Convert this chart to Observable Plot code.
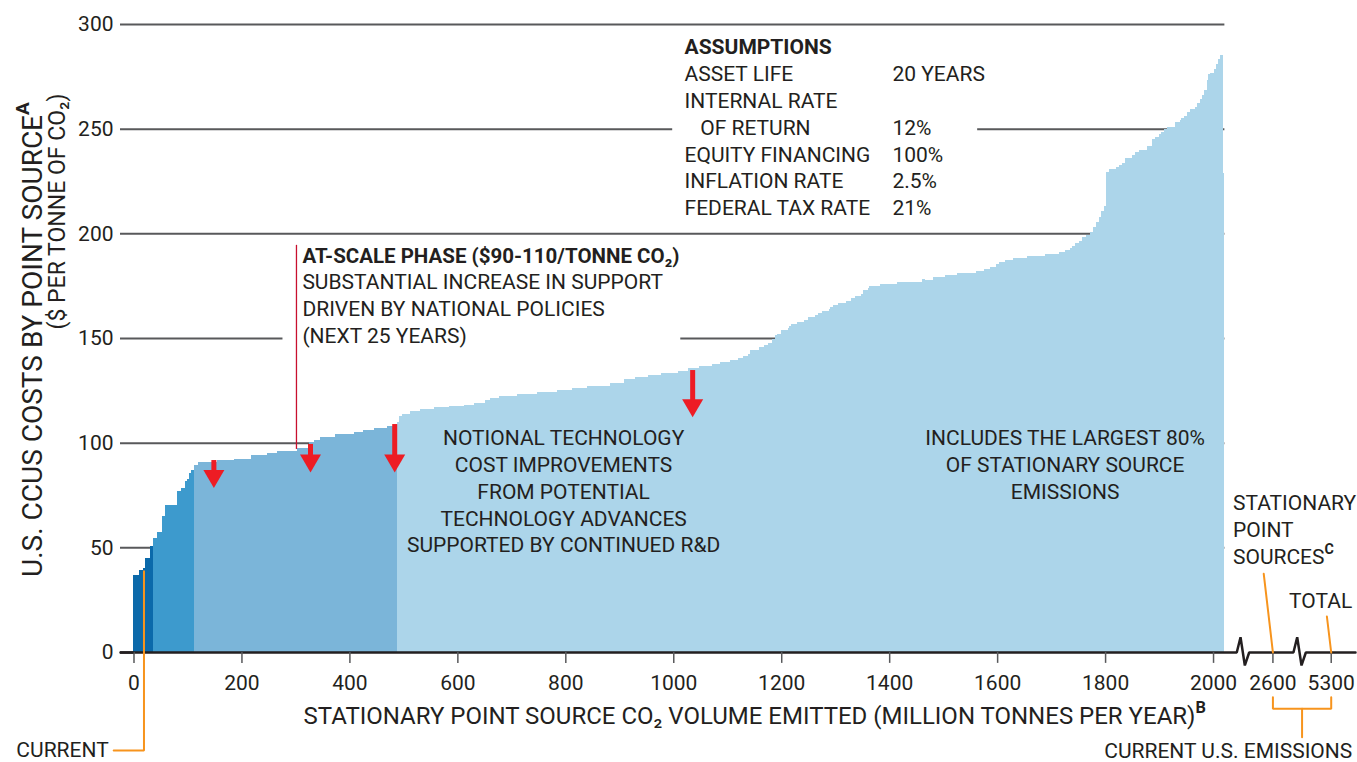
<!DOCTYPE html>
<html><head><meta charset="utf-8">
<script src="https://cdn.jsdelivr.net/npm/d3@7"></script>
<script src="https://cdn.jsdelivr.net/npm/@observablehq/plot@0.6"></script>
<style>
html,body{margin:0;padding:0;background:#fff;}
#chart svg{display:block;}
</style></head><body><div id="chart"></div>
<script>
// ---------- DATA ----------
// left edge of each point-source step (million tonnes per year, cumulative)
const volumeStart = [0,11,17,22,31, 36.5,44,52,59,80,88,95,99,102,107,
 112.4,120,155,186,217,248,266,303,325,334,346,374,408,426,445,470,
 488,491,497.5,513,531,556,584,612,630,652,661,676.5,710.5,747.6,784.6,812,840,883,908,930,
 954,977,1008,1028,1048,1072,1087,1106,1119,1130,1138,1143,1158,1169,1175,1183,1189,1193,1200,1212,
 1215,1219,1230,1243,1250,1263,1269,1275,1288,1291,1295,1306,1320,1330,1337,1347,1352,1361,1363,1383,
 1415,1461,1466,1481,1504,1526,1561,1575,1587,1598,1604,1614,1630,1656,1689,1715,1726,1735,1739,1745,
 1752,1757,1764,1772,1778,1784,1788,1793,1798,1801,1807,1820,1826,1831,1836,1849,1855,1863,1877,1886,
 1893,1899,1903,1909,1915,1930,1938,1941,1946,1951,1957,1967,1971,1975,1979,1983,1988,1991,1995,2001,
 2006,2009,2013,2018];
const volumeEnd = 2021;
// cost of each step ($ per tonne CO2)
const costPerTonne = [37,39,40,45,50.6, 54.6,57.5,65.2,70,77.1,78.4,81.6,82.7,85.5,87.1,
 89.5,90.8,91.6,92.2,94.3,95.1,96.2,97.5,100.1,101.4,102.7,104.1,104.9,106.2,107,108.1,
 110.1,112.9,113.8,115.2,116.2,117,117.3,118.1,119,120.2,121.1,122.4,123.2,124.1,125.1,126,127.1,128.4,130.3,131.3,
 132.2,133.2,134.3,135.6,136.7,137.6,138.6,139.5,140.5,141.4,142.4,144.3,145.6,146.7,147.6,149.5,151.4,152.1,153.8,154.8,
 155.7,156.7,157.6,158.6,160,161,161.9,162.9,163.8,164.8,165.7,166.7,167.6,168.9,170,171,172.9,173.8,174.8,175.7,
 176.7,178,177.6,179,180,181,182,182.9,183.8,185.2,186.2,187.1,188.1,189,190,191,191.9,192.9,193.8,195.2,
 196.2,198.1,199,200.5,203,205.5,207.6,210.8,213.2,229.5,230.6,231.6,232.7,233.8,236,237.3,238.9,239.8,241.8,245,
 246.2,247.5,248.6,249.9,250.7,253.2,254.2,255.1,256.1,258,259.3,260.5,262.5,264.1,266.1,268.5,273.3,276,276.5,278.4,
 280.9,283.3,285.2,228.7];
// phase tiers (start volume) and colours
const tierStart = [0, 36.5, 112.4, 488];
const tierColors = ["#0b69aa", "#3d9acd", "#7bb5d9", "#acd5ea"];

const yTicks = [0, 50, 100, 150, 200, 250, 300];
const xTicks = [0, 200, 400, 600, 800, 1000, 1200, 1400, 1600, 1800, 2000];
const brokenTicks = [2600, 5300];          // ticks after the axis breaks
const axisBreakCenters = [2055, 2160];      // positions of the zig-zag breaks (axis units)
// piecewise mapping of the broken x axis
const brokenAxis = d3.scaleLinear().domain([0, 2040, 2600, 5300, 5600]).range([0, 2040, 2110, 2218, 2240]);

// gridline pieces (interrupted by text blocks)
const gridY  = [300, 250, 250, 200, 150, 150, 100, 50];
const gridX1 = [-25, -25, 1563, -25, -25, 1013, -25, -25];
const gridX2 = [2021, 998, 2021, 2021, 276, 2021, 2021, 2021];

// red arrows: notional cost improvements
const arrowX   = [148, 327, 483, 1035];
const arrowTop = [91.7, 99.4, 108.9, 134.7];
const arrowTip = [78.6, 86, 86, 112.4];

const assumptionLabels = ["ASSET LIFE", "INTERNAL RATE", "   OF RETURN", "EQUITY FINANCING", "INFLATION RATE", "FEDERAL TAX RATE"];
const assumptionValues = ["20 YEARS", "", "12%", "100%", "2.5%", "21%"];
const atScaleLines = ["SUBSTANTIAL INCREASE IN SUPPORT", "DRIVEN BY NATIONAL POLICIES", "(NEXT 25 YEARS)"];
const notionalLines = ["NOTIONAL TECHNOLOGY", "COST IMPROVEMENTS", "FROM POTENTIAL", "TECHNOLOGY ADVANCES", "SUPPORTED BY CONTINUED R&D"];
const includesLines = ["INCLUDES THE LARGEST 80%", "OF STATIONARY SOURCE", "EMISSIONS"];
const stationaryLines = ["STATIONARY", "POINT", "SOURCES{C}"];

// ---------- BUILD ----------
const steps = volumeStart.map((x0, i) => ({
  x1: x0,
  x2: i + 1 < volumeStart.length ? volumeStart[i + 1] : volumeEnd,
  cost: costPerTonne[i],
  color: tierColors[d3.bisectRight(tierStart, x0 + 0.01) - 1]
}));
const grid = gridY.map((y, i) => ({y, x1: gridX1[i], x2: gridX2[i]}));
const arrows = arrowX.map((x, i) => ({x, top: arrowTop[i], tip: arrowTip[i]}));

// axis line with zig-zag breaks
const zig = [[-12, 0], [-5, 7.3], [3, -6.2], [11, 0]];
const axisPath = [[-25, 0]];
axisBreakCenters.forEach(b => zig.forEach(([dx, dy]) => axisPath.push([b + dx, dy])));
axisPath.push([2263, 0]);

const tickRows = xTicks.map(v => ({pos: v, label: String(v)}))
  .concat(brokenTicks.map(v => ({pos: brokenAxis(v), label: String(v)})));

const orange = "#f7941d", ink = "#231f20", red = "#ed1c24";
const lineStep = 12.8;   // text line spacing in $ units

// orange leader lines
const currentX = 18.5;
const p2600 = brokenAxis(2600), p5300 = brokenAxis(5300), pMid = (p2600 + p5300) / 2;
const leaders = [
  {id: "current", pts: [[-37.6, -46.8], [currentX, -46.8], [currentX, 38.8]]},
  {id: "stat", pts: [[p2600, 0], [p2600 - 17, 37.6]]},
  {id: "total", pts: [[p5300, 0], [p5300 - 8, 17.2]]},
  {id: "bracket", pts: [[p2600, -21.4], [p2600, -26.9], [p5300, -26.9], [p5300, -21.4]]},
  {id: "stem", pts: [[pMid, -26.9], [pMid, -40.5]]}
];
const leaderPts = leaders.flatMap(l => l.pts.map(([x, y]) => ({id: l.id, x, y})));

const fs = 21;
const plot = Plot.plot({
  width: 1357, height: 762,
  marginLeft: 120, marginRight: 2, marginTop: 24, marginBottom: 110,
  x: {domain: [-25, 2263], axis: null},
  y: {domain: [0, 300], axis: null},
  color: {type: "identity"},
  style: {fontFamily: "Roboto, 'Liberation Sans', sans-serif", fontSize: "21px", color: ink, background: "#fff"},
  marks: [
    Plot.ruleY(grid, {y: "y", x1: "x1", x2: "x2", stroke: "#58595b", strokeWidth: 2}),
    Plot.rectY(steps, {x1: "x1", x2: "x2", y1: 0, y2: "cost", fill: "color", shapeRendering: "crispEdges"}),
    // axis
    Plot.line(axisPath, {x: d => d[0], y: d => d[1], stroke: ink, strokeWidth: 2.5, strokeLinejoin: "miter"}),
    Plot.ruleX(tickRows, {x: "pos", y1: 0, y2: -5.2, stroke: "#58595b", strokeWidth: 1.5}),
    Plot.text(tickRows, {x: "pos", y: 0, dy: 31, text: "label", fontSize: fs, fill: ink}),
    Plot.ruleY([0], {x1: -25, x2: 0, stroke: ink, strokeWidth: 2.5}),
    Plot.text(yTicks, {x: -25, y: d => d, text: d => String(d), textAnchor: "end", dx: -7, fontSize: fs, fill: ink}),
    // y title
    Plot.text(["U.S. CCUS COSTS BY POINT SOURCE{A}"], {x: -187, y: 149.5, rotate: -90, fontSize: 28, fill: ink}),
    Plot.text(["($ PER TONNE OF CO₂)"], {x: -141.3, y: 267, rotate: -90, textAnchor: "end", fontSize: 23, fill: ink}),
    // x title
    Plot.text(["STATIONARY POINT SOURCE CO₂ VOLUME EMITTED (MILLION TONNES PER YEAR){B}"], {x: 1150, y: -30.6, fontSize: 24, fill: ink}),
    // orange leaders
    Plot.line(leaderPts, {x: "x", y: "y", z: "id", stroke: orange, strokeWidth: 2, strokeLinejoin: "miter"}),
    Plot.text(["CURRENT"], {x: -46.9, y: -46.8, textAnchor: "end", fontSize: fs, fill: ink}),
    Plot.text(["CURRENT U.S. EMISSIONS"], {x: 2257, y: -47.3, textAnchor: "end", fontSize: fs, fill: ink}),
    Plot.text(stationaryLines, {x: 2036, y: (d, i) => 71.2 - i * lineStep, textAnchor: "start", fontSize: fs, fill: ink}),
    Plot.text(["TOTAL"], {x: 2257, y: 24.4, textAnchor: "end", fontSize: fs, fill: ink}),
    // red arrows
    Plot.ruleX(arrows, {x: "x", y1: "top", y2: d => d.tip + 7, stroke: red, strokeWidth: 5}),
    Plot.dot(arrows, {x: "x", y: "tip", dy: -12, symbol: "triangle", rotate: 180, r: 7.8, fill: red, stroke: "none"}),
    // at-scale annotation
    Plot.ruleX([301], {y1: 97, y2: 194.5, stroke: "#c8102e", strokeWidth: 1.3}),
    Plot.text(["AT-SCALE PHASE ($90-110/TONNE CO₂)"], {x: 312, y: 189.2, textAnchor: "start", fontWeight: "bold", fontSize: 20.5, fill: ink}),
    Plot.text(atScaleLines, {x: 312, y: (d, i) => 176.8 - i * lineStep, textAnchor: "start", fontSize: fs, fill: ink}),
    // notional & includes blocks
    Plot.text(notionalLines, {x: 795.9, y: (d, i) => 102.2 - i * lineStep, fontSize: fs, fill: ink}),
    Plot.text(includesLines, {x: 1725, y: (d, i) => 102.2 - i * lineStep, fontSize: fs, fill: ink}),
    // assumptions
    Plot.text(["ASSUMPTIONS"], {x: 1020, y: 289, textAnchor: "start", fontWeight: "bold", fontSize: fs, fill: ink}),
    Plot.text(assumptionLabels, {x: 1020, y: (d, i) => 276.1 - i * lineStep, textAnchor: "start", fontSize: fs, fill: ink, text: d => d.replace(/^ +/, "\u00a0\u00a0\u00a0")}),
    Plot.text(assumptionValues, {x: 1405, y: (d, i) => 276.1 - i * lineStep, textAnchor: "start", fontSize: fs, fill: ink})
  ]
});

// superscript markers {X}
const ns = "http://www.w3.org/2000/svg";
plot.querySelectorAll("text").forEach(t => {
  if (t.querySelector("tspan")) return;
  const m = t.textContent.match(/^(.*)\{(\w)\}$/);
  if (m) {
    t.textContent = m[1];
    const ts = document.createElementNS(ns, "tspan");
    ts.setAttribute("font-size", "0.68em");
    ts.setAttribute("font-weight", "bold");
    ts.setAttribute("dy", "-0.7em");
    ts.textContent = m[2];
    t.appendChild(ts);
  }
});
document.getElementById("chart").appendChild(plot);
</script>
</body></html>
